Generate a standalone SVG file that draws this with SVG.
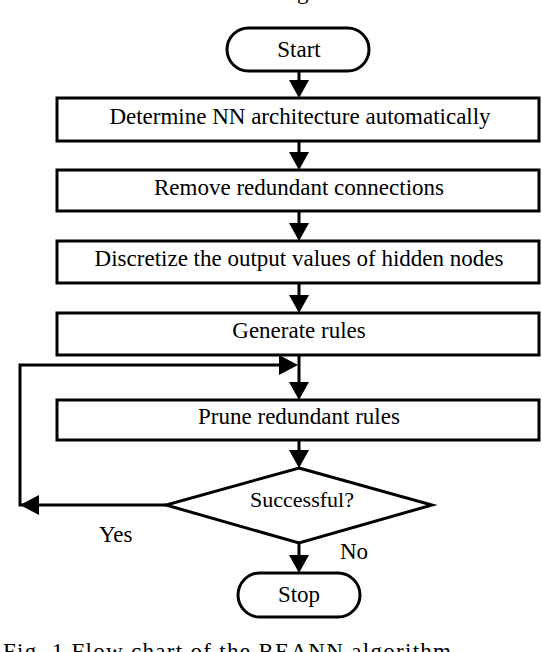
<svg xmlns="http://www.w3.org/2000/svg" width="542" height="652" viewBox="0 0 542 652">
<style>
.shape{fill:#fff;stroke:#000;stroke-width:3}
.line{fill:none;stroke:#000;stroke-width:3}
.head{fill:#000;stroke:none}
text{font-family:"Liberation Serif","Times New Roman",serif;font-size:23px;fill:#000}
.c{text-anchor:middle}
</style>
<rect width="542" height="652" fill="#fff"/>
<text x="297" y="-1">g</text>
<g id="connectors">
<path class="line" d="M299,71V84M299,141V154M299,211V225M299,283V297M299,355V384M299,440V452M299,543V557"/>
<polygon class="head" points="289,80 309,80 299,98"/>
<polygon class="head" points="289,152 309,152 299,170"/>
<polygon class="head" points="289,223 309,223 299,241"/>
<polygon class="head" points="289,295 309,295 299,313"/>
<polygon class="head" points="289,382 309,382 299,400"/>
<polygon class="head" points="289,450 309,450 299,468"/>
<polygon class="head" points="289,555 309,555 299,573"/>
<path class="line" d="M166,505H20V365H282"/>
<polygon class="head" points="39,495 39,515 20,505"/>
<polygon class="head" points="279,355 279,375 298,365"/>
<text x="99" y="542">Yes</text>
<text x="340" y="559">No</text>
</g>
<g id="start">
<rect class="shape" x="227" y="28" width="142" height="43" rx="21.5"/>
<text class="c" x="299" y="57">Start</text>
</g>
<g id="determine">
<rect class="shape" x="57" y="98" width="482" height="43"/>
<text class="c" x="300" y="124">Determine NN architecture automatically</text>
</g>
<g id="remove">
<rect class="shape" x="57" y="170" width="482" height="41"/>
<text class="c" x="299" y="195">Remove redundant connections</text>
</g>
<g id="discretize">
<rect class="shape" x="57" y="241" width="482" height="42"/>
<text class="c" x="299" y="266">Discretize the output values of hidden nodes</text>
</g>
<g id="generate">
<rect class="shape" x="57" y="313" width="482" height="42"/>
<text class="c" x="299" y="338">Generate rules</text>
</g>
<g id="prune">
<rect class="shape" x="57" y="400" width="482" height="40"/>
<text class="c" x="299" y="424">Prune redundant rules</text>
</g>
<g id="decision">
<polygon class="shape" points="299,468 432,505 299,543 166,505"/>
<text class="c" x="302" y="507" style="font-size:22px">Successful?</text>
</g>
<g id="stop">
<rect class="shape" x="238" y="573" width="122" height="44" rx="22"/>
<text class="c" x="299" y="602">Stop</text>
</g>
<text x="3" y="659" textLength="448" lengthAdjust="spacing">Fig. 1 Flow chart of the REANN algorithm</text>
</svg>
